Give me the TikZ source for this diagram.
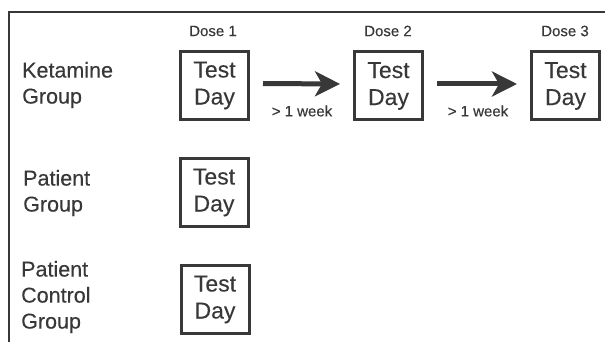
\documentclass[tikz,border=0pt]{standalone}
\usepackage{fontspec}
\setmainfont{Liberation Sans}[FakeBold=0.25]
\usetikzlibrary{arrows.meta}
\definecolor{ink}{HTML}{383838}
\begin{document}
\begin{tikzpicture}[x=1pt,y=-1pt,
  every node/.style={text=ink},
  testbox/.style={draw=ink, line width=3pt, minimum width=68pt, minimum height=68pt, inner sep=0pt, align=center, font=\fontsize{23}{27}\selectfont},
  grouplabel/.style={anchor=west, align=left, inner sep=0pt, font=\fontsize{21.5}{26}\selectfont},
  doselabel/.style={font=\fontsize{15}{17}\selectfont, inner sep=0pt},
  weeklabel/.style={font=\fontsize{15}{17}\selectfont, inner sep=0pt},
  bigarrow/.style={draw=ink, line width=5pt, -{Stealth[length=25pt,width=25pt,inset=7pt]}, shorten <=13pt, shorten >=13pt}
]
\useasboundingbox (0,0) rectangle (605,342);
% frame
\coordinate (fc) at (9,12);
\coordinate (fr) at (606,12);
\coordinate (fb) at (9,343);
\draw[ink, line width=1.2pt] (fr) -- (fc) -- (fb);

% boxes
\node[testbox] (b1) at (214.5,85.5) {Test\\Day};
\node[testbox] (b2) at (388.5,86) {Test\\Day};
\node[testbox] (b3) at (565.5,86) {Test\\Day};
\node[testbox] (p1) at (214,192.5) {Test\\Day};
\node[testbox] (c1) at (215,299.5) {Test\\Day};

% dose labels
\node[doselabel] (d1) at (213,31) {Dose 1};
\node[doselabel] (d2) at (388,31) {Dose 2};
\node[doselabel] (d3) at (565,31) {Dose 3};

% arrows
\draw[bigarrow] ([yshift=2pt]b1.east) -- ([yshift=2pt]b2.west);
\draw[bigarrow] ([yshift=2pt]b2.east) -- ([yshift=2pt]b3.west);
\node[weeklabel] (w1) at (302,111) {> 1 week};
\node[weeklabel] (w2) at (478,111) {> 1 week};

% group labels
\node[grouplabel] (g1) at (22,85) {Ketamine\\Group};
\node[grouplabel] (g2) at (23,193) {Patient\\Group};
\node[grouplabel] (g3) at (21,297) {Patient\\Control\\Group};
\end{tikzpicture}
\end{document}
